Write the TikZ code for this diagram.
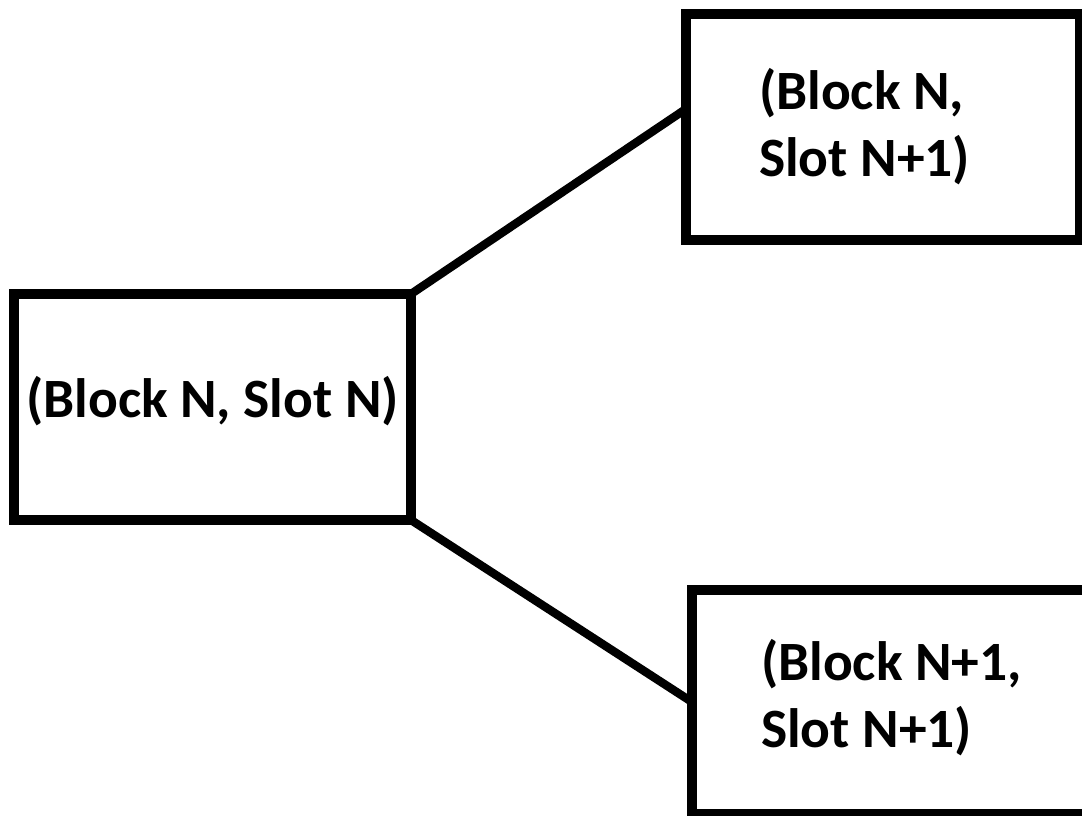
\documentclass[tikz,border=0pt]{standalone}
\usepackage{fontspec}
\setmainfont{Carlito}
\usetikzlibrary{calc}
\begin{document}
\begin{tikzpicture}[x=0.75pt,y=-0.75pt,
  blockbox/.style={draw=black,line width=7pt,rectangle,inner sep=0pt,outer sep=0pt},
  lbl/.style={inner sep=0pt,outer sep=0pt,font=\fontsize{41.6}{50}\selectfont\bfseries},
  conn/.style={draw=black,line width=6.3pt}]
\useasboundingbox (0,0) rectangle (1082,816);
\clip (0,0) rectangle (1082,816);
\fill[white] (0,0) rectangle (1082,816);
\node[blockbox,minimum width=397*0.75pt,minimum height=226*0.75pt] (L) at (212.5,407) {};
\node[blockbox,minimum width=394*0.75pt,minimum height=226*0.75pt] (TR) at (883,127) {};
\node[blockbox,minimum width=416*0.75pt,minimum height=224*0.75pt] (BR) at (900,702) {};
\node[lbl,anchor=base] (lt) at (212.5,418) {(Block N, Slot N)};
\node[lbl,anchor=base west] (t1) at (759,110) {(Block N,};
\node[lbl,anchor=base west] (t2) at (759,177) {Slot N+1)};
\node[lbl,anchor=base west] (b1) at (761,680) {(Block N+1,};
\node[lbl,anchor=base west] (b2) at (761,747) {Slot N+1)};
\coordinate (ta) at ($(TR.north west)!0.42!(TR.south west)$);
\draw[conn] (L.north east) -- (ta);
\draw[conn] (L.south east) -- (BR.west);
\end{tikzpicture}
\end{document}
